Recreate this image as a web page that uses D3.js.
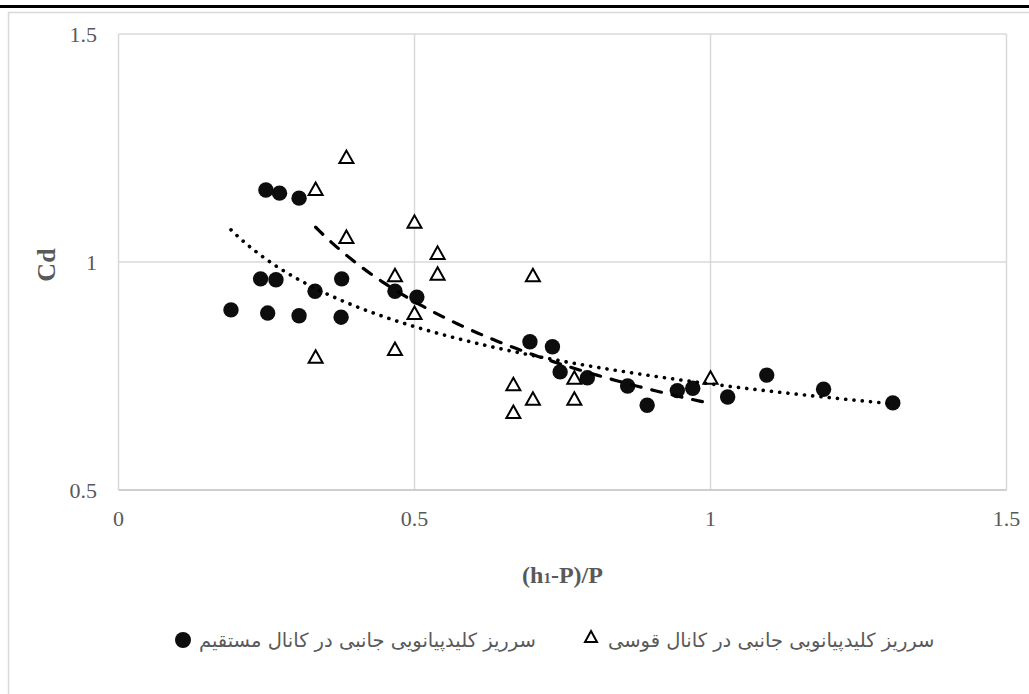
<!DOCTYPE html>
<html>
<head>
<meta charset="utf-8">
<script src="https://cdn.jsdelivr.net/npm/d3@7"></script>
<style>
  body { margin: 0; background: #fff; }
  svg { display: block; }
  .tick-label { font-family: "Liberation Serif", serif; font-size: 22px; fill: #595959; }
  .axis-title { font-family: "Liberation Serif", serif; font-weight: bold; fill: #595959; }
  .legend-text { font-family: "DejaVu Sans", sans-serif; font-size: 19.5px; fill: #595959; }
</style>
</head>
<body>
<div id="chart"></div>
<script>
// straight channel (circles)
const straightX = [0.190, 0.240, 0.249, 0.252, 0.266, 0.272, 0.305, 0.305, 0.332, 0.376, 0.377, 0.467, 0.504,
  0.695, 0.733, 0.746, 0.792, 0.860, 0.893, 0.944, 0.970, 1.029, 1.095, 1.191, 1.308];
const straightY = [0.895, 0.963, 1.158, 0.888, 0.961, 1.151, 1.140, 0.882, 0.936, 0.879, 0.963, 0.936, 0.923,
  0.825, 0.814, 0.759, 0.746, 0.728, 0.686, 0.718, 0.723, 0.704, 0.752, 0.721, 0.691];

// curved channel (triangles)
const curvedX = [0.333, 0.333, 0.385, 0.385, 0.467, 0.467, 0.500, 0.500, 0.539, 0.539,
  0.667, 0.667, 0.700, 0.700, 0.770, 0.770, 1.000];
const curvedY = [1.160, 0.792, 1.230, 1.055, 0.971, 0.809, 1.088, 0.888, 1.020, 0.974,
  0.732, 0.671, 0.971, 0.700, 0.746, 0.700, 0.746];

const xTicks = [0, 0.5, 1, 1.5];
const yTicks = [0.5, 1, 1.5];
const yTitle = "Cd";
const legendNames = ["سرریز کلیدپیانویی جانبی در کانال مستقیم", "سرریز کلیدپیانویی جانبی در کانال قوسی"];

let width = 1029;
let height = 694;
let plot = { left: 118.5, right: 1006.5, top: 34, bottom: 490 };

let x = d3.scaleLinear().domain([0, 1.5]).range([plot.left, plot.right]);
let y = d3.scaleLinear().domain([0.5, 1.5]).range([plot.bottom, plot.top]);

let svg = d3.select("#chart").append("svg")
  .attr("width", width)
  .attr("height", height);

svg.append("rect").attr("width", width).attr("height", height).attr("fill", "#fff");

// page rule and chart frame
svg.append("line").attr("x1", 0).attr("x2", width).attr("y1", 6.5).attr("y2", 6.5)
  .attr("stroke", "#000").attr("stroke-width", 3);
svg.append("path").attr("d", `M8.5,${height} V12.5 H${width}`)
  .attr("fill", "none").attr("stroke", "#d9d9d9").attr("stroke-width", 1.5);

// gridlines
svg.append("g").selectAll("line").data(xTicks).enter().append("line")
  .attr("x1", d => x(d)).attr("x2", d => x(d))
  .attr("y1", plot.top).attr("y2", plot.bottom)
  .attr("stroke", "#d9d9d9").attr("stroke-width", 1.5);
svg.append("g").selectAll("line").data(yTicks.filter(d => d > 0.5)).enter().append("line")
  .attr("x1", plot.left).attr("x2", plot.right)
  .attr("y1", d => y(d)).attr("y2", d => y(d))
  .attr("stroke", "#d9d9d9").attr("stroke-width", 1.5);
// x axis line
svg.append("line").attr("x1", plot.left).attr("x2", plot.right)
  .attr("y1", y(0.5)).attr("y2", y(0.5))
  .attr("stroke", "#bfbfbf").attr("stroke-width", 1.5);

// tick labels
svg.append("g").selectAll("text").data(xTicks).enter().append("text")
  .attr("class", "tick-label")
  .attr("x", d => x(d)).attr("y", plot.bottom + 36)
  .attr("text-anchor", "middle")
  .text(d => d3.format("")(d));
svg.append("g").selectAll("text").data(yTicks).enter().append("text")
  .attr("class", "tick-label")
  .attr("x", 97).attr("y", d => y(d) + 8)
  .attr("text-anchor", "end")
  .text(d => d3.format("")(d));

// axis titles
let xt = svg.append("text")
  .attr("class", "axis-title")
  .attr("x", (plot.left + plot.right) / 2)
  .attr("y", 583)
  .attr("text-anchor", "middle")
  .style("font-size", "24px");
xt.append("tspan").text("(h");
xt.append("tspan").style("font-size", "15px").text("1");
xt.append("tspan").text("-P)/P");

svg.append("text")
  .attr("class", "axis-title")
  .attr("transform", `translate(55, ${y(1) + 3}) rotate(-90)`)
  .attr("text-anchor", "middle")
  .style("font-size", "26px")
  .text(yTitle);

// power trend fitted from the points, like Excel's power trendline
function powerFit(xs, ys) {
  let lx = xs.map(Math.log), ly = ys.map(Math.log);
  let mx = d3.mean(lx), my = d3.mean(ly);
  let b = d3.sum(lx, (v, i) => (v - mx) * (ly[i] - my)) / d3.sum(lx, v => (v - mx) ** 2);
  let a = Math.exp(my - b * mx);
  return v => a * Math.pow(v, b);
}

let trianglePath = "M0,-6.5 L7,6 L-7,6 Z";

// markers
let straight = straightX.map((v, i) => ({ x: v, y: straightY[i] }));
let curved = curvedX.map((v, i) => ({ x: v, y: curvedY[i] }));

svg.append("g").selectAll("circle").data(straight).enter().append("circle")
  .attr("cx", d => x(d.x)).attr("cy", d => y(d.y))
  .attr("r", 7.7)
  .attr("fill", "#0d0d0d");

svg.append("g").selectAll("path").data(curved).enter().append("path")
  .attr("d", trianglePath)
  .attr("transform", d => `translate(${x(d.x)},${y(d.y)})`)
  .attr("fill", "#fff")
  .attr("stroke", "#000")
  .attr("stroke-width", 2);

// trendlines
let line = d3.line().x(d => x(d[0])).y(d => y(d[1]));
function trend(xs, ys) {
  let f = powerFit(xs, ys);
  let lo = d3.min(xs), hi = d3.max(xs);
  return d3.range(0, 101).map(i => {
    let v = lo + (hi - lo) * i / 100;
    return [v, f(v)];
  });
}

svg.append("path")
  .attr("d", line(trend(straightX, straightY)))
  .attr("fill", "none")
  .attr("stroke", "#000")
  .attr("stroke-width", 3.6)
  .attr("stroke-linecap", "round")
  .attr("stroke-dasharray", "0.1 8.2");

svg.append("path")
  .attr("d", line(trend(curvedX, curvedY)))
  .attr("fill", "none")
  .attr("stroke", "#000")
  .attr("stroke-width", 3.2)
  .attr("stroke-linecap", "round")
  .attr("stroke-dasharray", "10 11");

// legend
let legendY = 640;
svg.append("circle").attr("cx", 183).attr("cy", legendY).attr("r", 8).attr("fill", "#0d0d0d");
svg.append("text").attr("class", "legend-text")
  .attr("x", 199).attr("y", legendY + 7)
  .text(legendNames[0]);
svg.append("path").attr("d", "M0,-6 L6,5 L-6,5 Z")
  .attr("transform", `translate(591,${legendY - 3})`)
  .attr("fill", "#fff").attr("stroke", "#000").attr("stroke-width", 2);
svg.append("text").attr("class", "legend-text")
  .attr("x", 608).attr("y", legendY + 7)
  .text(legendNames[1]);
</script>
</body>
</html>
